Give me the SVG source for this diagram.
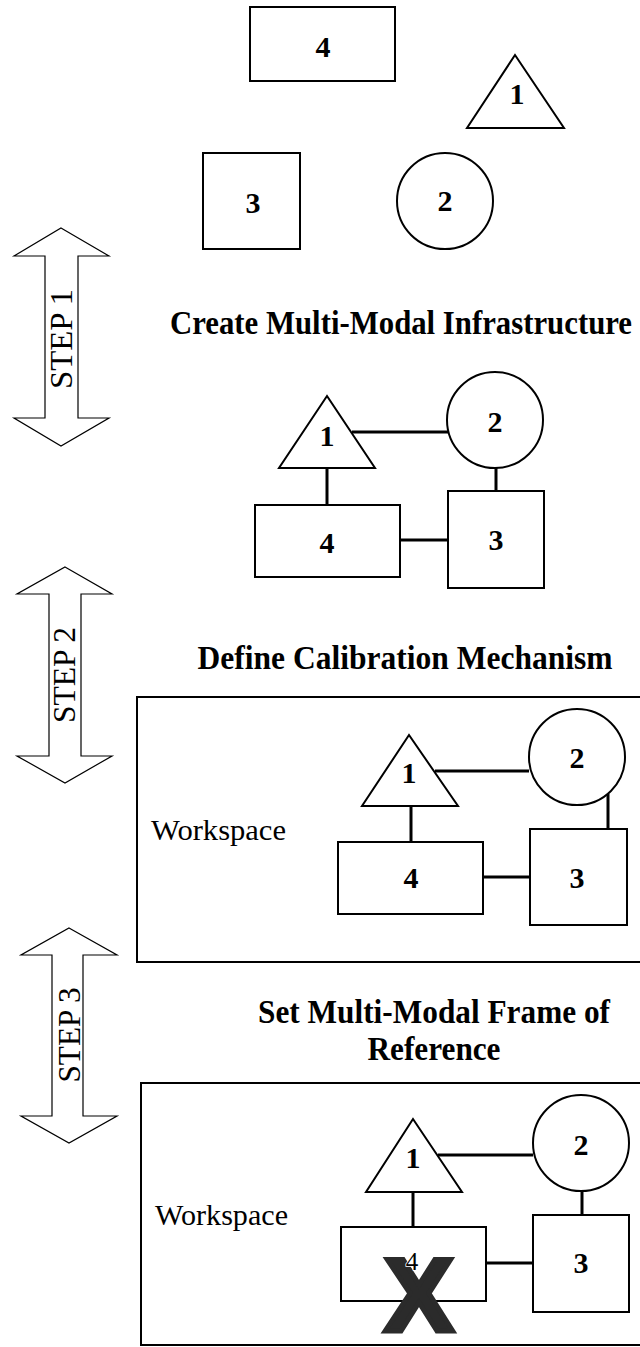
<svg xmlns="http://www.w3.org/2000/svg" width="640" height="1347" viewBox="0 0 640 1347">
  <style>
    .shape { fill: #fff; stroke: #000; stroke-width: 2; }
    .frame { fill: none; stroke: #000; stroke-width: 2; }
    .link { stroke: #000; stroke-width: 3; fill: none; }
    .step { fill: #fff; stroke: #000; stroke-width: 1.2; stroke-linejoin: miter; }
    .num { font-family: "Liberation Serif", "Times New Roman", serif; font-weight: bold; font-size: 30px; text-anchor: middle; fill: #000; }
    .num-thin { font-family: "Liberation Serif", "Times New Roman", serif; font-size: 25px; text-anchor: middle; fill: #000; stroke: #fff; stroke-width: 1.5; paint-order: stroke; }
    .title { font-family: "Liberation Serif", "Times New Roman", serif; font-weight: bold; font-size: 33px; text-anchor: middle; fill: #000; }
    .ws { font-family: "Liberation Serif", "Times New Roman", serif; font-size: 29px; fill: #000; }
    .steplbl { font-family: "Liberation Serif", "Times New Roman", serif; font-size: 31px; text-anchor: middle; fill: #000; }
    .cross { font-family: "Liberation Sans", Arial, sans-serif; font-weight: bold; font-size: 104px; text-anchor: middle; fill: #2b2b2b; stroke: #2b2b2b; stroke-width: 5; }
  </style>
  <rect width="640" height="1347" fill="#fff"/>

  <!-- Loose components before integration -->
  <g id="loose-4"><rect class="shape" x="250" y="7" width="145" height="74"/><text class="num" x="323" y="57">4</text></g>
  <g id="loose-1"><polygon class="shape" points="515,55 467,128 564,128"/><text class="num" x="517" y="104">1</text></g>
  <g id="loose-3"><rect class="shape" x="203" y="153" width="97" height="96"/><text class="num" x="253" y="213">3</text></g>
  <g id="loose-2"><circle class="shape" cx="445" cy="201" r="48"/><text class="num" x="445" y="211">2</text></g>

  <!-- Step arrows -->
  <g id="step1">
    <polygon class="step" points="61,228 109,256 78,256 78,418 109,418 61,446 14,418 45,418 45,256 14,256"/>
    <text class="steplbl" transform="translate(72,339) rotate(-90)" textLength="100" lengthAdjust="spacingAndGlyphs">STEP 1</text>
  </g>
  <g id="step2">
    <polygon class="step" points="65,567 112,594 81,594 81,756 112,756 65,783 17,756 49,756 49,594 17,594"/>
    <text class="steplbl" transform="translate(75,675) rotate(-90)" textLength="96" lengthAdjust="spacingAndGlyphs">STEP 2</text>
  </g>
  <g id="step3">
    <polygon class="step" points="69,928 117,955 83,955 83,1116 117,1116 69,1143 21,1116 52,1116 52,955 21,955"/>
    <text class="steplbl" transform="translate(80,1035) rotate(-90)" textLength="95" lengthAdjust="spacingAndGlyphs">STEP 3</text>
  </g>

  <!-- Stage titles -->
  <text id="title-infra" class="title" x="401" y="334" textLength="462" lengthAdjust="spacingAndGlyphs">Create Multi-Modal Infrastructure</text>
  <text id="title-calib" class="title" x="405" y="669" textLength="415" lengthAdjust="spacingAndGlyphs">Define Calibration Mechanism</text>
  <text id="title-frame" class="title" x="434" y="1023" textLength="352" lengthAdjust="spacingAndGlyphs">Set Multi-Modal Frame of</text>
  <text id="title-frame2" class="title" x="434" y="1060" textLength="133" lengthAdjust="spacingAndGlyphs">Reference</text>

  <!-- Workspaces -->
  <g id="workspace-a">
    <rect class="frame" x="137" y="697" width="510" height="265"/>
    <text class="ws" x="151" y="840" textLength="135" lengthAdjust="spacingAndGlyphs">Workspace</text>
  </g>
  <g id="workspace-b">
    <rect class="frame" x="141" y="1083" width="510" height="262"/>
    <text class="ws" x="155" y="1225" textLength="133" lengthAdjust="spacingAndGlyphs">Workspace</text>
  </g>

  <!-- Connectors -->
  <g id="connectors">
    <!-- infrastructure -->
    <line class="link" x1="352" y1="432" x2="448" y2="432"/>
    <line class="link" x1="327" y1="468" x2="327" y2="505"/>
    <line class="link" x1="496" y1="468" x2="496" y2="491"/>
    <line class="link" x1="400" y1="540" x2="448" y2="540"/>
    <!-- calibration -->
    <line class="link" x1="435" y1="771" x2="529" y2="771"/>
    <line class="link" x1="411" y1="806" x2="411" y2="842"/>
    <line class="link" x1="608" y1="794" x2="608" y2="829"/>
    <line class="link" x1="483" y1="877" x2="530" y2="877"/>
    <!-- frame of reference -->
    <line class="link" x1="438" y1="1155" x2="533" y2="1155"/>
    <line class="link" x1="413" y1="1192" x2="413" y2="1227"/>
    <line class="link" x1="582" y1="1191" x2="582" y2="1215"/>
    <line class="link" x1="487" y1="1263" x2="533" y2="1263"/>
  </g>

  <!-- Infrastructure nodes -->
  <g id="infra-1"><polygon class="shape" points="327,396 279,468 375,468"/><text class="num" x="327" y="446">1</text></g>
  <g id="infra-2"><circle class="shape" cx="495" cy="420" r="48"/><text class="num" x="495" y="432">2</text></g>
  <g id="infra-4"><rect class="shape" x="255" y="505" width="145" height="72"/><text class="num" x="327" y="553">4</text></g>
  <g id="infra-3"><rect class="shape" x="448" y="491" width="96" height="97"/><text class="num" x="496" y="550">3</text></g>

  <!-- Calibration nodes -->
  <g id="calib-1"><polygon class="shape" points="409,735 362,806 458,806"/><text class="num" x="409" y="783">1</text></g>
  <g id="calib-2"><circle class="shape" cx="577" cy="757" r="48"/><text class="num" x="577" y="768">2</text></g>
  <g id="calib-4"><rect class="shape" x="338" y="842" width="145" height="72"/><text class="num" x="411" y="888">4</text></g>
  <g id="calib-3"><rect class="shape" x="530" y="829" width="97" height="96"/><text class="num" x="577" y="888">3</text></g>

  <!-- Frame-of-reference nodes -->
  <g id="ref-1"><polygon class="shape" points="413,1119 366,1192 462,1192"/><text class="num" x="413" y="1168">1</text></g>
  <g id="ref-2"><circle class="shape" cx="581" cy="1143" r="48"/><text class="num" x="581" y="1155">2</text></g>
  <g id="ref-4">
    <rect class="shape" x="341" y="1227" width="145" height="74"/>
    <!-- removal mark drawn under the struck-out label -->
    <text id="remove-4" class="cross" x="419" y="1331">X</text>
    <text class="num-thin" x="412" y="1270">4</text>
  </g>
  <g id="ref-3"><rect class="shape" x="533" y="1215" width="96" height="97"/><text class="num" x="581" y="1273">3</text></g>
</svg>
